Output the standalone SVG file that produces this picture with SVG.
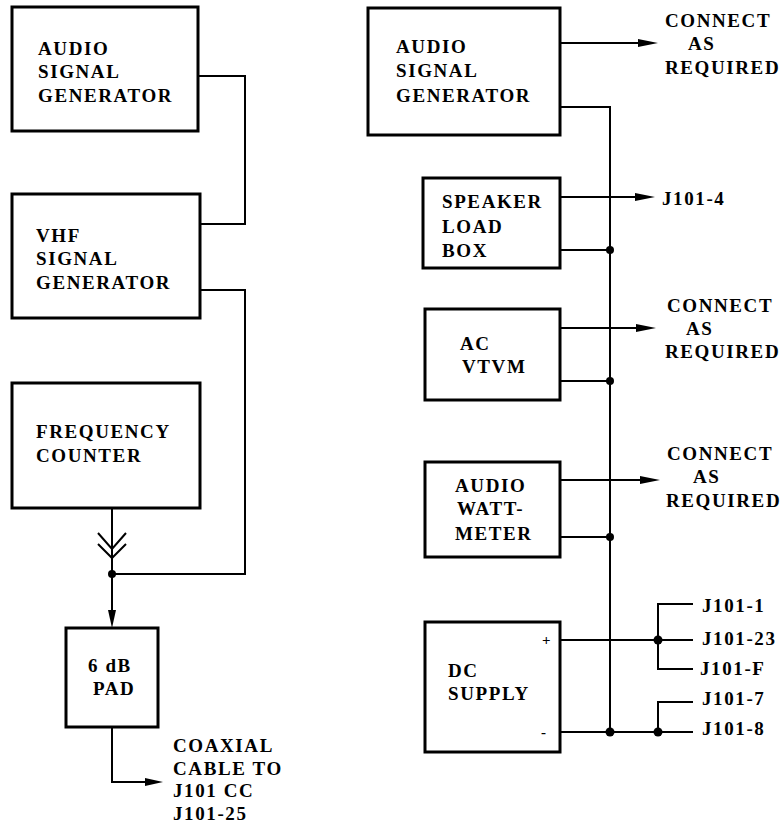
<svg xmlns="http://www.w3.org/2000/svg" width="782" height="827" viewBox="0 0 782 827">
<style>
.box{fill:#fff;stroke:#000;stroke-width:3}
.w{fill:none;stroke:#000;stroke-width:2}
.t{font-size:19px;letter-spacing:1.6px;fill:#000}
.s{font-size:15px;fill:#000}
</style>
<rect width="782" height="827" fill="#fff"/>
<g id="connectors">
<path class="w" d="M198,76 H245 V224 H200"/>
<path class="w" d="M200,290 H245 V574 H112"/>
<path class="w" d="M112,508 V614"/>
<path class="w" d="M98,533 L112,549 L126,533"/>
<path class="w" d="M98,544 L112,558 L126,544"/>
<polygon points="108,610 116,610 112,628"/>
<circle cx="112" cy="574" r="4"/>
<path class="w" d="M112,727 V782 H148"/>
<polygon points="145,778 145,786 163,782"/>
<path class="w" d="M560,43 H642"/>
<polygon points="638,39 638,47 658,43"/>
<path class="w" d="M560,107 H610 V732"/>
<path class="w" d="M560,197 H640"/>
<polygon points="635,193 635,201 655,197"/>
<path class="w" d="M560,250 H610"/>
<circle cx="610" cy="250" r="4"/>
<path class="w" d="M560,328 H640"/>
<polygon points="636,324 636,332 656,328"/>
<path class="w" d="M560,381 H610"/>
<circle cx="610" cy="381" r="4"/>
<path class="w" d="M560,480 H644"/>
<polygon points="640,476 640,484 660,480"/>
<path class="w" d="M560,537 H610"/>
<circle cx="610" cy="537" r="4"/>
<path class="w" d="M560,640 H693"/>
<path class="w" d="M693,604 H658 V669 H693"/>
<circle cx="658" cy="640" r="4.5"/>
<path class="w" d="M560,732 H693"/>
<path class="w" d="M693,702 H658 V732"/>
<circle cx="610" cy="732" r="4.5"/>
<circle cx="658" cy="732" r="4.5"/>
</g>
<g font-family="Liberation Serif, Times New Roman, serif" font-weight="bold">
<g id="audio-gen-left">
<rect class="box" x="12" y="7" width="186" height="124"/>
<text class="t" x="38" y="55">AUDIO</text>
<text class="t" x="38" y="78">SIGNAL</text>
<text class="t" x="38" y="102">GENERATOR</text>
</g>
<g id="vhf-gen">
<rect class="box" x="12" y="194" width="188" height="124"/>
<text class="t" x="36" y="242">VHF</text>
<text class="t" x="36" y="265">SIGNAL</text>
<text class="t" x="36" y="289">GENERATOR</text>
</g>
<g id="freq-counter">
<rect class="box" x="12" y="383" width="188" height="125"/>
<text class="t" x="36" y="438">FREQUENCY</text>
<text class="t" x="36" y="462">COUNTER</text>
</g>
<g id="pad">
<rect class="box" x="66" y="628" width="92" height="99"/>
<text class="t" x="88" y="672">6 dB</text>
<text class="t" x="93" y="695">PAD</text>
</g>
<g id="coax-label">
<text class="t" x="173" y="752">COAXIAL</text>
<text class="t" x="173" y="775">CABLE TO</text>
<text class="t" x="173" y="797">J101 CC</text>
<text class="t" x="173" y="820">J101-25</text>
</g>
<g id="audio-gen-right">
<rect class="box" x="368" y="8" width="192" height="127"/>
<text class="t" x="396" y="53">AUDIO</text>
<text class="t" x="396" y="77">SIGNAL</text>
<text class="t" x="396" y="102">GENERATOR</text>
</g>
<g id="connect1">
<text class="t" x="665" y="27">CONNECT</text>
<text class="t" x="688" y="50">AS</text>
<text class="t" x="665" y="74">REQUIRED</text>
</g>
<g id="speaker-load">
<rect class="box" x="423" y="178" width="137" height="90"/>
<text class="t" x="442" y="208">SPEAKER</text>
<text class="t" x="442" y="233">LOAD</text>
<text class="t" x="442" y="257">BOX</text>
</g>
<text class="t" x="662" y="205">J101-4</text>
<g id="ac-vtvm">
<rect class="box" x="425" y="309" width="135" height="91"/>
<text class="t" x="460" y="350">AC</text>
<text class="t" x="462" y="373">VTVM</text>
</g>
<g id="connect2">
<text class="t" x="667" y="312">CONNECT</text>
<text class="t" x="686" y="335">AS</text>
<text class="t" x="665" y="358">REQUIRED</text>
</g>
<g id="audio-wattmeter">
<rect class="box" x="425" y="462" width="135" height="95"/>
<text class="t" x="455" y="492">AUDIO</text>
<text class="t" x="457" y="515">WATT-</text>
<text class="t" x="455" y="540">METER</text>
</g>
<g id="connect3">
<text class="t" x="667" y="460">CONNECT</text>
<text class="t" x="693" y="483">AS</text>
<text class="t" x="666" y="507">REQUIRED</text>
</g>
<g id="dc-supply">
<rect class="box" x="425" y="622" width="135" height="130"/>
<text class="s" x="542" y="645">+</text>
<text class="s" x="541" y="737">-</text>
<text class="t" x="448" y="677">DC</text>
<text class="t" x="448" y="700">SUPPLY</text>
</g>
<g id="jacks">
<text class="t" x="702" y="612">J101-1</text>
<text class="t" x="702" y="645">J101-23</text>
<text class="t" x="700" y="675">J101-F</text>
<text class="t" x="702" y="705">J101-7</text>
<text class="t" x="702" y="735">J101-8</text>
</g>
</g>
</svg>
